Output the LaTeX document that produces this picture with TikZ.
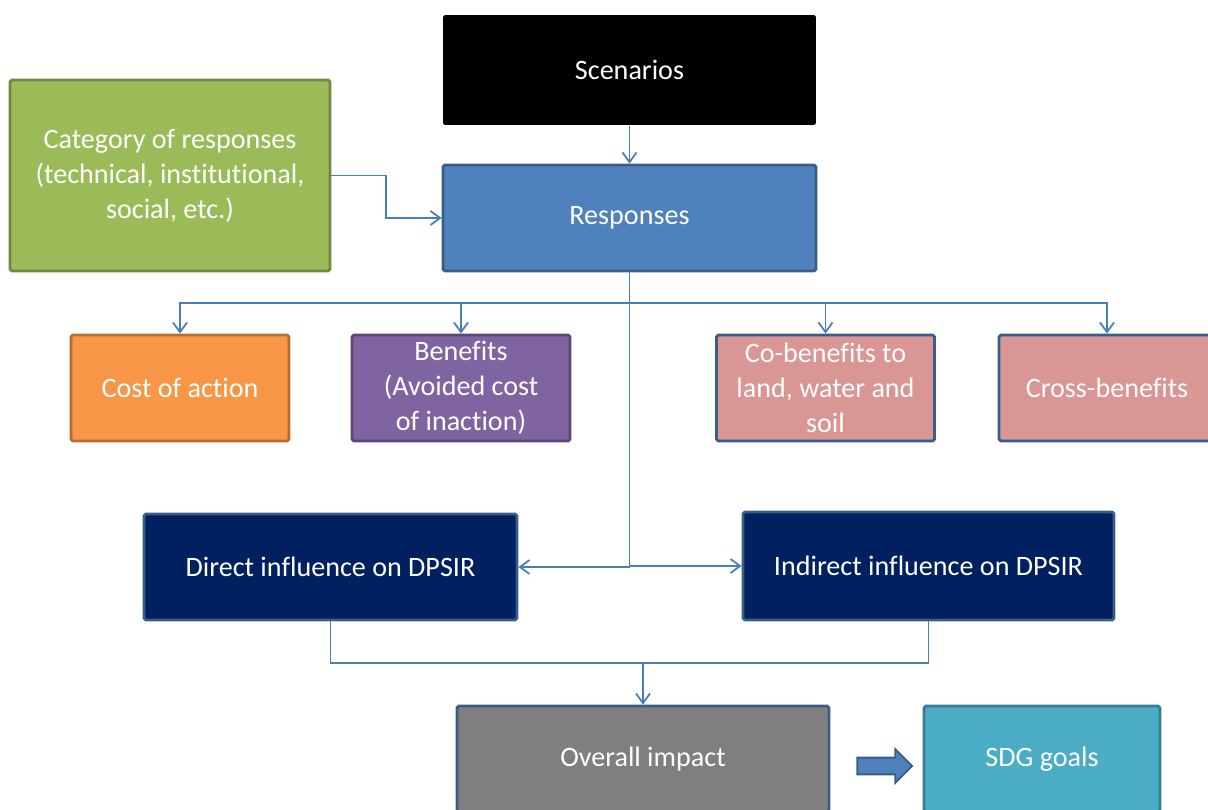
\documentclass[tikz,border=0pt]{standalone}
\usepackage{fontspec}
\setmainfont{Carlito}[Ligatures=NoCommon]
\usepackage{xcolor}
\usetikzlibrary{arrows.meta, positioning, shapes.arrows}
\definecolor{wirecol}{HTML}{4A7EBB}
\definecolor{respfill}{HTML}{4F81BD}
\definecolor{respedge}{HTML}{385D8A}
\definecolor{catfill}{HTML}{9BBB59}
\definecolor{catedge}{HTML}{71893F}
\definecolor{costfill}{HTML}{F79646}
\definecolor{costedge}{HTML}{B66D31}
\definecolor{benfill}{HTML}{8064A2}
\definecolor{benedge}{HTML}{5C4776}
\definecolor{cobfill}{HTML}{D99694}
\definecolor{navyfill}{HTML}{002060}
\definecolor{grayfill}{HTML}{7F7F7F}
\definecolor{sdgfill}{HTML}{4BACC6}
\definecolor{sdgedge}{HTML}{357D91}
\tikzset{
    box/.style={
        rectangle,
        draw=respedge,
        line width=1.6pt,
        rounded corners=1pt,
        minimum width=7.46cm,
        minimum height=2.12cm,
        text=white,
        align=center,
        inner sep=2pt,
        font=\fontsize{16}{20}\selectfont
    },
    smallbox/.style={
        box,
        minimum width=4.36cm
    },
    wire/.style={
        draw=wirecol,
        line width=1pt,
        -{Straight Barb[length=5.5pt,width=8pt]}
    },
    plainwire/.style={
        draw=wirecol,
        line width=1pt
    }
}
\begin{document}
\begin{tikzpicture}[x=0.02cm, y=-0.02cm]
\useasboundingbox (0,0) rectangle (1208,810);
\clip (0,0) rectangle (1208,810);

% Top row
\node[box, fill=black, draw=none, minimum height=2.2cm] (scen) at (629.5,70) {Scenarios};
\node[box, fill=respfill] (resp) at (629.5,218) {Responses};
\node[box, fill=catfill, draw=catedge, minimum width=6.4cm, minimum height=3.82cm] (cat) at (170,175.5)
    {Category of responses\\(technical, institutional,\\social, etc.)};

% Outcomes of responses
\node[smallbox, fill=costfill, draw=costedge] (cost) at (180,388) {Cost of action};
\node[smallbox, fill=benfill, draw=benedge] (ben) at (461,388) {Benefits\\(Avoided cost\\of inaction)};
\node[smallbox, fill=cobfill] (cob) at (825.5,388) {Co-benefits to\\land, water and\\soil};
\node[smallbox, fill=cobfill, minimum width=4.32cm] (cross) at (1107,388) {Cross-benefits};

% Influence
\node[box, fill=navyfill] (direct) at (330.5,567) {Direct influence on DPSIR};
\node[box, fill=navyfill, minimum width=7.42cm, minimum height=2.16cm] (indirect) at (928.5,566) {Indirect influence on DPSIR};

% Impact
\node[box, fill=grayfill, minimum width=7.44cm] (overall) at (643,759) {Overall impact};
\node[box, fill=sdgfill, draw=sdgedge, minimum width=4.72cm] (sdg) at (1042,759) {SDG goals};
\node[single arrow, fill=respfill, draw=respedge, line width=1pt, inner sep=0.15cm,
      single arrow head extend=0.17cm, minimum height=1.1cm] (blk) at (880.5,766) {};

\coordinate (bus) at (629.5,303);
\coordinate (join) at (643,663);

\draw[wire] (scen) -- (resp);
\draw[wire] (cat.east) -- ++(55,0) |- (resp.west);

\draw[wire] (resp.south) |- (direct.east);
\draw[wire] (resp.south) |- (indirect.west);
\draw[wire] (bus) -| (cost.north);
\draw[wire] (bus) -| (ben.north);
\draw[wire] (bus) -| (cob.north);
\draw[wire] (bus) -| (cross.north);

\draw[plainwire] (direct.south) |- (join) -| (indirect.south);
\draw[wire] (join) -- (overall.north);

\end{tikzpicture}
\end{document}
